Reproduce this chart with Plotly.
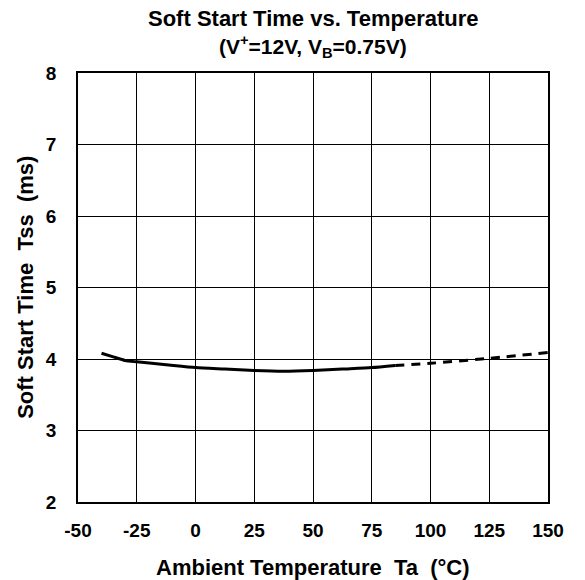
import plotly.graph_objects as go

temp_solid = [-40, -35, -30, -25, -12.5, 0, 12.5, 25, 37.5, 50, 62.5, 75, 85]
tss_solid = [4.08, 4.03, 3.98, 3.96, 3.92, 3.88, 3.86, 3.84, 3.83, 3.84, 3.86, 3.88, 3.91]
temp_dash = [85, 100, 125, 150]
tss_dash = [3.91, 3.94, 4.01, 4.09]

x_ticks = [-50, -25, 0, 25, 50, 75, 100, 125, 150]
y_ticks = [2, 3, 4, 5, 6, 7, 8]

title_1 = "Soft Start Time vs. Temperature"
title_2 = "(V<sup>+</sup>=12V, V<sub>B</sub>=0.75V)"
x_title = "Ambient Temperature&nbsp;&nbsp;Ta&nbsp;&nbsp;(°C)"
y_title = "Soft Start Time&nbsp;&nbsp;Tss&nbsp;&nbsp;(ms)"

font = "Liberation Sans, Arial, sans-serif"

fig = go.Figure()
fig.add_trace(go.Scatter(x=temp_solid, y=tss_solid, mode="lines",
                         line=dict(color="black", width=3, shape="spline", smoothing=0.6),
                         showlegend=False))
fig.add_trace(go.Scatter(x=temp_dash, y=tss_dash, mode="lines",
                         line=dict(color="black", width=3, dash="9px,7px", shape="spline"),
                         showlegend=False))

# The page body adds an 8px margin, so the figure is sized 8px smaller.
fig.update_layout(
    width=577, height=572,
    margin=dict(l=69.5, r=37, t=65, b=78),
    paper_bgcolor="white", plot_bgcolor="white",
    font=dict(family=font, color="black", size=19),
    annotations=[
        dict(text=f"<b>{title_1}</b>", x=0.5, y=1.127, xref="paper", yref="paper",
             xanchor="center", yanchor="middle", showarrow=False, font=dict(size=22)),
        dict(text=f"<b>{title_2}</b>", x=0.5, y=1.061, xref="paper", yref="paper",
             xanchor="center", yanchor="middle", showarrow=False, font=dict(size=21)),
        dict(text=f"<b>{x_title}</b>", x=0.5, y=-0.152, xref="paper", yref="paper",
             xanchor="center", yanchor="middle", showarrow=False, font=dict(size=22)),
        dict(text=f"<b>{y_title}</b>", x=-0.112, y=0.5, xref="paper", yref="paper",
             xanchor="center", yanchor="middle", showarrow=False, textangle=-90,
             font=dict(size=22)),
    ],
)
fig.update_xaxes(range=[-50, 150], tickvals=x_ticks,
                 ticktext=[f"<b>{v}</b>" for v in x_ticks],
                 showgrid=True, gridcolor="black", gridwidth=1,
                 showline=True, linecolor="black", linewidth=1.5, mirror=True,
                 ticks="", zeroline=False, ticklabelstandoff=10)
fig.update_yaxes(range=[2, 8], tickvals=y_ticks,
                 ticktext=[f"<b>{v}</b>" for v in y_ticks],
                 showgrid=True, gridcolor="black", gridwidth=1,
                 showline=True, linecolor="black", linewidth=1.5, mirror=True,
                 ticks="", zeroline=False, ticklabelstandoff=16)

fig.write_html("out.html")
